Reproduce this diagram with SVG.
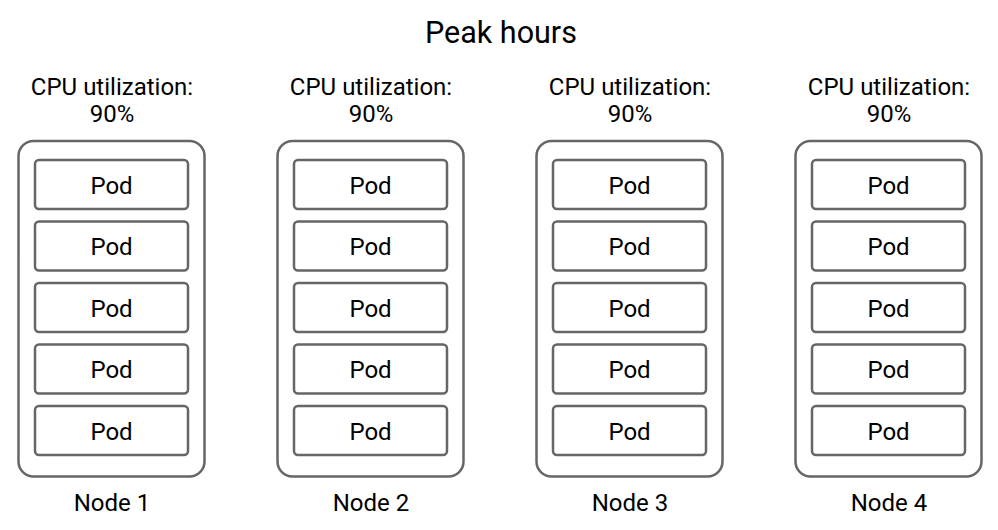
<svg xmlns="http://www.w3.org/2000/svg" width="998" height="530" viewBox="0 0 998 530">
<style>
text{font-family:Roboto,"Liberation Sans",sans-serif;fill:#000;text-anchor:middle}
.t{font-size:30.5px}
.l{font-size:24px}
.node{fill:#fff;stroke:#666;stroke-width:2.5}
.pod{fill:#fff;stroke:#666;stroke-width:2.5}
</style>
<rect width="998" height="530" fill="#fff"/>
<text class="t" x="501" y="43">Peak hours</text>
<defs>
<g id="pods">
<rect class="pod" x="17" y="19" width="153" height="49" rx="4"/>
<text class="l" x="93.5" y="52.5">Pod</text>
<rect class="pod" x="17" y="80.5" width="153" height="49" rx="4"/>
<text class="l" x="93.5" y="114">Pod</text>
<rect class="pod" x="17" y="142" width="153" height="49" rx="4"/>
<text class="l" x="93.5" y="175.5">Pod</text>
<rect class="pod" x="17" y="203.5" width="153" height="49" rx="4"/>
<text class="l" x="93.5" y="237">Pod</text>
<rect class="pod" x="17" y="265" width="153" height="49" rx="4"/>
<text class="l" x="93.5" y="298.5">Pod</text>
</g>
</defs>
<g id="node1">
<text class="l" x="112" y="95">CPU utilization:</text>
<text class="l" x="112" y="122">90%</text>
<rect class="node" x="18.5" y="141" width="186" height="335.5" rx="15"/>
<use href="#pods" x="18" y="141"/>
<text class="l" x="112" y="511">Node 1</text>
</g>
<g id="node2">
<text class="l" x="371" y="95">CPU utilization:</text>
<text class="l" x="371" y="122">90%</text>
<rect class="node" x="277.5" y="141" width="186" height="335.5" rx="15"/>
<use href="#pods" x="277" y="141"/>
<text class="l" x="371" y="511">Node 2</text>
</g>
<g id="node3">
<text class="l" x="630" y="95">CPU utilization:</text>
<text class="l" x="630" y="122">90%</text>
<rect class="node" x="536.5" y="141" width="186" height="335.5" rx="15"/>
<use href="#pods" x="536" y="141"/>
<text class="l" x="630" y="511">Node 3</text>
</g>
<g id="node4">
<text class="l" x="889" y="95">CPU utilization:</text>
<text class="l" x="889" y="122">90%</text>
<rect class="node" x="795.5" y="141" width="186" height="335.5" rx="15"/>
<use href="#pods" x="795" y="141"/>
<text class="l" x="889" y="511">Node 4</text>
</g>
<g id="connectors"></g>
</svg>
